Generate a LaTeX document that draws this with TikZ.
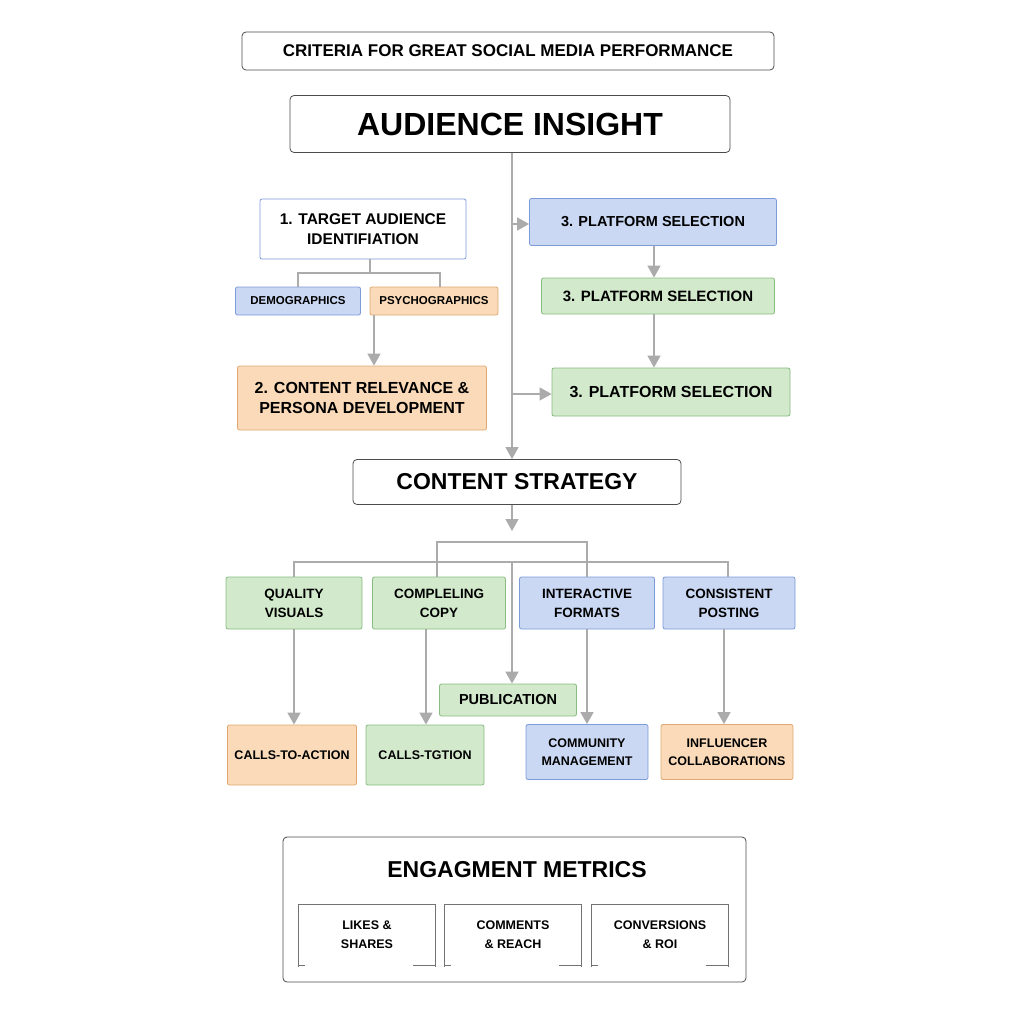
\documentclass[tikz,border=0pt]{standalone}
\usepackage{fontspec}
\setmainfont{Liberation Sans}
\usetikzlibrary{arrows.meta}
\definecolor{bluefill}{HTML}{CAD8F3}
\definecolor{blueline}{HTML}{7C9BD9}
\definecolor{greenfill}{HTML}{D2EACB}
\definecolor{greenline}{HTML}{88BC80}
\definecolor{orangefill}{HTML}{FADAB8}
\definecolor{orangeline}{HTML}{DFA872}
\definecolor{linkgray}{HTML}{ABABAB}
\begin{document}
\begin{tikzpicture}[x=1pt,y=-1pt,
  box/.style={draw,rounded corners=2pt,align=center,font=\bfseries,inner sep=0pt,line width=0.8pt},
  bluebox/.style={box,draw=blueline,fill=bluefill},
  greenbox/.style={box,draw=greenline,fill=greenfill},
  orangebox/.style={box,draw=orangeline,fill=orangefill},
  plainbox/.style={box,draw=black!70,fill=white,rounded corners=4pt},
  link/.style={draw=linkgray,line width=1.4pt},
  arr/.style={link,-{Triangle[length=12pt,width=13pt]}}]
\useasboundingbox (0,0) rectangle (1024,1024);

\node[plainbox,minimum width=532,minimum height=38,font=\bfseries\fontsize{17}{20}\selectfont] (title) at (508,51) {CRITERIA FOR GREAT SOCIAL MEDIA PERFORMANCE};
\node[plainbox,minimum width=440,minimum height=57,font=\bfseries\fontsize{32}{36}\selectfont] (insight) at (510,124) {AUDIENCE INSIGHT};
\node[box,draw=blueline,fill=white,minimum width=206,minimum height=60,font=\bfseries\fontsize{15.5}{20}\selectfont] (target) at (363,229) {1. TARGET AUDIENCE\\IDENTIFIATION};
\node[bluebox,minimum width=125,minimum height=28,font=\bfseries\fontsize{11.5}{14}\selectfont] (demo) at (298,301) {DEMOGRAPHICS};
\node[orangebox,minimum width=128,minimum height=28,font=\bfseries\fontsize{11.5}{14}\selectfont] (psycho) at (434,301) {PSYCHOGRAPHICS};
\node[orangebox,minimum width=249,minimum height=64,font=\bfseries\fontsize{16}{20}\selectfont] (relevance) at (362,398) {2. CONTENT RELEVANCE \&\\PERSONA DEVELOPMENT};
\node[bluebox,minimum width=247,minimum height=47,font=\bfseries\fontsize{14.5}{17}\selectfont] (platA) at (653,222) {3. PLATFORM SELECTION};
\node[greenbox,minimum width=233,minimum height=36,font=\bfseries\fontsize{15}{17}\selectfont] (platB) at (658,296) {3. PLATFORM SELECTION};
\node[greenbox,minimum width=238,minimum height=48,font=\bfseries\fontsize{16}{19}\selectfont] (platC) at (671,392) {3. PLATFORM SELECTION};
\node[plainbox,minimum width=328,minimum height=45,font=\bfseries\fontsize{23}{26}\selectfont] (strategy) at (517,482) {CONTENT STRATEGY};

\node[greenbox,minimum width=136,minimum height=52,font=\bfseries\fontsize{13.5}{19}\selectfont] (quality) at (294,603) {QUALITY\\VISUALS};
\node[greenbox,minimum width=133,minimum height=52,font=\bfseries\fontsize{13.5}{19}\selectfont] (copy) at (439,603) {COMPLELING\\COPY};
\node[bluebox,minimum width=135,minimum height=52,font=\bfseries\fontsize{13.5}{19}\selectfont] (formats) at (587,603) {INTERACTIVE\\FORMATS};
\node[bluebox,minimum width=132,minimum height=52,font=\bfseries\fontsize{13.5}{19}\selectfont] (posting) at (729,603) {CONSISTENT\\POSTING};
\node[greenbox,minimum width=137,minimum height=32,font=\bfseries\fontsize{14.5}{17}\selectfont] (publication) at (508,700) {PUBLICATION};
\node[orangebox,minimum width=129,minimum height=60,font=\bfseries\fontsize{12.5}{15}\selectfont] (cta) at (292,755) {CALLS-TO-ACTION};
\node[greenbox,minimum width=118,minimum height=60,font=\bfseries\fontsize{12.5}{15}\selectfont] (ctb) at (425,755) {CALLS-TGTION};
\node[bluebox,minimum width=122,minimum height=55,font=\bfseries\fontsize{12.5}{18}\selectfont] (community) at (587,752) {COMMUNITY\\MANAGEMENT};
\node[orangebox,minimum width=132,minimum height=55,font=\bfseries\fontsize{12.5}{18}\selectfont] (influencer) at (727,752) {INFLUENCER\\COLLABORATIONS};

% metrics panel
\node[plainbox,minimum width=463,minimum height=145] (metrics) at (514.5,909.5) {};
\node[font=\bfseries\fontsize{23}{26}\selectfont] (metricstitle) at (517,870) {ENGAGMENT METRICS};
\foreach \n/\cx/\txt in {likes/367/{LIKES \&\\SHARES},comments/513/{COMMENTS\\\& REACH},roi/660/{CONVERSIONS\\\& ROI}} {
  \node[align=center,font=\bfseries\fontsize{12.5}{19}\selectfont,minimum width=136,minimum height=60,inner sep=0pt] (\n) at (\cx,935) {\txt};
  \draw[black!55,line width=0.8pt] ([yshift=-2]\n.south west) -- (\n.north west) -- (\n.north east) -- ([yshift=-2]\n.south east);
  \draw[black!55,line width=0.8pt] (\n.south west) -- ++(6,0) (\n.south east) -- ++(-22,0);
}

% trunk and branches
\draw[arr] (insight.south -| 512,0) -- (strategy.north -| 512,0);
\draw[arr] (512,224) -- (platA.west |- 0,224);
\draw[arr] (512,394) -- (platC.west |- 0,394);
\draw[link] (target.south -| 370,0) -- (370,273) -- (298,273) -- (demo.north);
\draw[link] (370,273) -- (440,273) -- (psycho.north -| 440,0);
\draw[arr] (psycho.south -| 374,0) -- (relevance.north -| 374,0);
\draw[arr] (platA.south -| 654,0) -- (platB.north -| 654,0);
\draw[arr] (platB.south -| 654,0) -- (platC.north -| 654,0);

\draw[arr] (strategy.south -| 512,0) -- (512,531);
\draw[link] (quality.north) -- (294,562) -- (728,562) -- (posting.north -| 728,0);
\draw[link] (copy.north -| 437,0) -- (437,542) -- (587,542) -- (formats.north);
\draw[arr] (512,562) -- (publication.north -| 512,0);
\draw[arr] (quality.south) -- (cta.north -| 294,0);
\draw[arr] (copy.south -| 426,0) -- (ctb.north -| 426,0);
\draw[arr] (formats.south) -- (community.north);
\draw[arr] (posting.south -| 724,0) -- (influencer.north -| 724,0);
\end{tikzpicture}
\end{document}
